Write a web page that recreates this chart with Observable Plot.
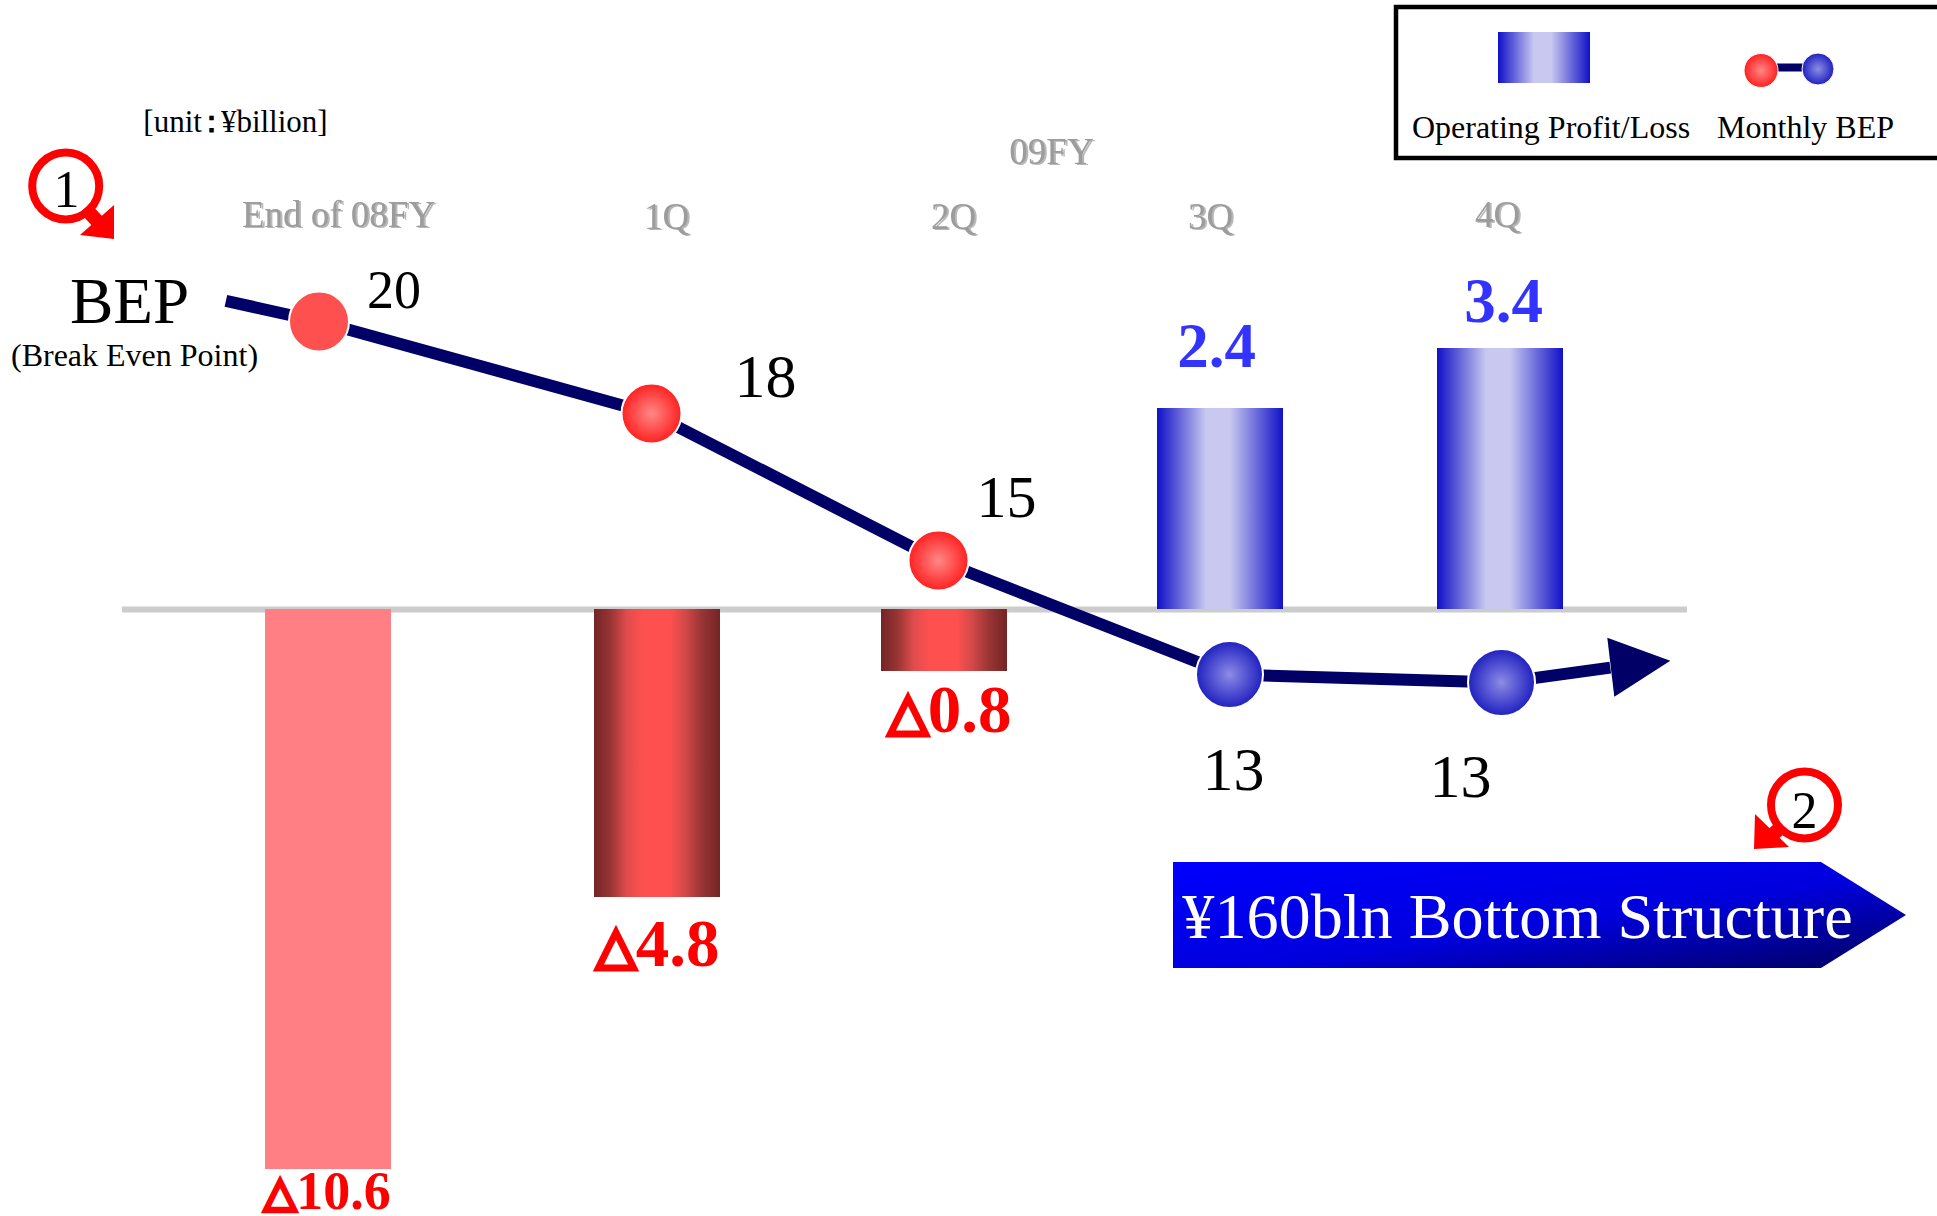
<!DOCTYPE html>
<html>
<head>
<meta charset="utf-8">
<script src="https://cdn.jsdelivr.net/npm/d3@7"></script>
<script src="https://cdn.jsdelivr.net/npm/@observablehq/plot@0.6"></script>
<style>
  html, body { margin: 0; background: #fff; }
  #chart { position: relative; width: 1937px; height: 1216px; overflow: hidden; }
  #chart svg { position: absolute; left: 0; top: 0; max-width: none; background: none; }
</style>
</head>
<body>
<div id="chart"></div>
<script>
// Periods and operating profit/loss, in ¥ billion
const periods = ["End of 08FY", "1Q", "2Q", "3Q", "4Q"];
const quarterIndex = [0, 1, 2, 3, 4];
const operatingProfit = [-10.6, -4.8, -0.8, 2.4, 3.4];

// Monthly break-even point, in ¥ billion (labels show it rounded)
const monthlyBep = [20, 18, 15, 13, 12.9];

// The trend line runs a little past the first and last point
const trendQuarter = [-0.28, 0, 1, 2, 3, 4, 4.4];
const trendBep = [20.45, 20, 18, 15, 13, 12.9, 13.12];

const WIDTH = 1937, HEIGHT = 1216;
const SERIF = "'Liberation Serif', 'Times New Roman', serif";
const NAVY = "#000066", RED = "#ff0000", BLUE_TEXT = "#3333ff", GREY_TEXT = "#9c9c9c";
const GREY_SHADOW = "drop-shadow(2px 1.5px 0.6px #b8b8b8)";

const rows = quarterIndex.map((q) => ({q, period: periods[q], profit: operatingProfit[q], bep: monthlyBep[q]}));

const chart = document.getElementById("chart");

const base = {
  width: WIDTH,
  height: HEIGHT,
  margin: 0,
  style: {fontFamily: SERIF, background: "none"}
};

// A position scale whose steps are uneven: values go through a piecewise
// mapping first, then land on the page directly
const piecewise = (domain, range, extent) => ({
  axis: null,
  transform: d3.scaleLinear(domain, range),
  domain: [0, extent],
  range: [0, extent]
});

const profitY = piecewise([-10.6, -4.8, -0.8, 0, 2.4, 3.4], [1169, 897, 671, 609, 408, 348], HEIGHT);
const barX = piecewise(quarterIndex, [328, 657, 944, 1220, 1500], WIDTH);
const bepY = piecewise([20, 18, 15, 13, 12.9], [321, 413, 560, 674, 682], HEIGHT);
const bepX = piecewise(quarterIndex, [318.5, 651, 938, 1229, 1501], WIDTH);

function gradient(defs, id, attrs, stops, tag = "linearGradient") {
  const g = defs.append(tag).attr("id", id);
  Object.entries(attrs).forEach(([k, v]) => g.attr(k, v));
  stops.forEach(([offset, color]) => g.append("stop").attr("offset", offset).attr("stop-color", color));
}

function paints() {
  const defs = d3.create("svg:defs");
  gradient(defs, "bar-loss", {x1: 0, x2: 1, y1: 0, y2: 0},
    [[0, "#742424"], [0.13, "#983434"], [0.26, "#e04c4c"], [0.39, "#ff5050"], [0.6, "#ff5050"], [0.73, "#d04848"], [0.86, "#983434"], [1, "#742424"]]);
  gradient(defs, "bar-profit", {x1: 0, x2: 1, y1: 0, y2: 0},
    [[0, "#1010c8"], [0.39, "#c8c8f0"], [0.58, "#c8c8f0"], [1, "#1010c8"]]);
  gradient(defs, "dot-loss", {}, [[0, "#ff8888"], [1, "#ff2020"]], "radialGradient");
  gradient(defs, "dot-profit", {}, [[0, "#8c8ce6"], [1, "#2020c0"]], "radialGradient");
  gradient(defs, "banner", {x1: 0, y1: 0, x2: 1, y2: 1}, [[0, "#0000ff"], [0.55, "#0000dd"], [1, "#00005e"]]);
  return defs.node();
}

const lossText = (v) => (v < 0 ? "△" + Math.abs(v).toFixed(1) : v.toFixed(1));

// Draws a text mark, then sets its triangle sign smaller and heavier than the digits
function smallSign(index, scales, values, dimensions, context, next) {
  const g = next(index, scales, values, dimensions, context);
  d3.select(g).selectAll("text").each(function () {
    const label = this.textContent;
    if (!label.startsWith("△")) return;
    this.textContent = "";
    const t = d3.select(this);
    t.append("tspan").attr("font-size", "0.78em").attr("dy", -3)
      .attr("stroke", RED).attr("stroke-width", 2.6).text("△");
    t.append("tspan").attr("dy", 3).text(label.slice(1));
  });
  return g;
}

// One label per bar, each set clear of its own bar end
const barLabel = (i, dx, dy, size) => Plot.text([rows[i]], {
  x: "q", y: "profit", text: (d) => lossText(d.profit), dx, dy,
  fontSize: size, fontWeight: "bold", lineAnchor: "middle",
  fill: rows[i].profit < 0 ? RED : BLUE_TEXT,
  render: smallSign
});

const periodLabel = (i, dx, dy) => Plot.text([rows[i]], {
  x: "q", text: "period", frameAnchor: "top", dx, dy,
  fontSize: 37, lineAnchor: "middle", fill: GREY_TEXT,
  imageFilter: GREY_SHADOW
});

const barOptions = {x1: "q", x2: "q", y1: 0, y2: "profit", insetLeft: -63, insetRight: -63};

// Bars, baseline and period headings
const barsLayer = Plot.plot({
  ...base,
  x: barX,
  y: profitY,
  marks: [
    paints,
    Plot.ruleY([0], {x1: -0.626, x2: 4.668, stroke: "#cccccc", strokeWidth: 6}),
    Plot.rect(rows.slice(0, 1), {...barOptions, fill: "#ff7f85"}),
    Plot.rect(rows.slice(1, 3), {...barOptions, fill: "url(#bar-loss)"}),
    Plot.rect(rows.slice(3), {...barOptions, fill: "url(#bar-profit)"}),
    barLabel(0, -1, 22, 54),
    barLabel(1, 0, 47, 67),
    barLabel(2, 5, 39, 67),
    barLabel(3, -4, -62, 63),
    barLabel(4, 3, -47, 63),
    periodLabel(0, 10, 215),
    periodLabel(1, 9, 217),
    periodLabel(2, 9, 217),
    periodLabel(3, -10, 217),
    periodLabel(4, -3, 215)
  ]
});
chart.append(barsLayer);

// A small text placed directly on the page area
const note = (text, cx, cy, size, options = {}) => Plot.text([text], {
  frameAnchor: "top-left", dx: cx, dy: cy, fontSize: size,
  textAnchor: "middle", lineAnchor: "middle", fill: "#000", ...options
});

// Tightens the full-width colon of the unit note
function tightColon(index, scales, values, dimensions, context, next) {
  const g = next(index, scales, values, dimensions, context);
  const t = d3.select(g).select("text");
  const [left, right] = t.text().split("：");
  t.text(left);
  t.append("tspan").attr("dx", -6).attr("font-weight", "bold").text("：");
  t.append("tspan").attr("dx", -6).text(right);
  return g;
}

// Legend frame, swatches, numbered callouts and the closing banner
function decorations() {
  const g = d3.create("svg:g");
  g.append("rect").attr("x", 1396).attr("y", 7).attr("width", 560).attr("height", 151)
    .attr("fill", "#fff").attr("stroke", "#000").attr("stroke-width", 4.5);
  g.append("rect").attr("x", 1498).attr("y", 32).attr("width", 92).attr("height", 51).attr("fill", "url(#bar-profit)");
  g.append("line").attr("x1", 1776).attr("x2", 1804).attr("y1", 67.5).attr("y2", 67.5)
    .attr("stroke", NAVY).attr("stroke-width", 8);
  g.append("circle").attr("cx", 1761).attr("cy", 70.5).attr("r", 17)
    .attr("fill", "url(#dot-loss)").attr("stroke", "#fff").attr("stroke-width", 1);
  g.append("circle").attr("cx", 1818).attr("cy", 69).attr("r", 16)
    .attr("fill", "url(#dot-profit)").attr("stroke", "#fff").attr("stroke-width", 1);

  const ring = (cx, cy) => g.append("circle").attr("cx", cx).attr("cy", cy).attr("r", 33.5)
    .attr("fill", "none").attr("stroke", RED).attr("stroke-width", 8);
  ring(65.7, 186);
  g.append("line").attr("x1", 85).attr("y1", 208).attr("x2", 100).attr("y2", 224)
    .attr("stroke", RED).attr("stroke-width", 14);
  g.append("polygon").attr("points", "114,205 114,239 80,235").attr("fill", RED);
  ring(1804.5, 805);
  g.append("line").attr("x1", 1779).attr("y1", 829).attr("x2", 1768).attr("y2", 839)
    .attr("stroke", RED).attr("stroke-width", 14);
  g.append("polygon").attr("points", "1755,814 1754,849 1789,847").attr("fill", RED);

  g.append("polygon").attr("points", "1173,862 1821,862 1906,915 1821,968 1173,968").attr("fill", "url(#banner)");
  return g.node();
}

const annotationLayer = Plot.plot({
  ...base,
  marks: [
    paints,
    decorations,
    note("Operating Profit/Loss", 1550.5, 127, 32),
    note("Monthly BEP", 1805, 127, 32),
    note("[unit：¥billion]", 235, 122, 31, {render: tightColon}),
    note("09FY", 1051, 152, 37, {fill: GREY_TEXT, imageFilter: GREY_SHADOW}),
    note("1", 66, 190, 52),
    note("2", 1804, 811, 52),
    note("BEP", 129, 302, 65),
    note("(Break Even Point)", 134, 355, 32),
    note("¥160bln Bottom Structure", 1517, 917, 64.2, {fill: "#fff"})
  ]
});
chart.append(annotationLayer);

// The break-even value always shows as a whole number
const bepText = (d) => d3.format(".0f")(d.bep);
const bepLabel = (i, dx, dy, size) => Plot.text([rows[i]], {
  x: "q", y: "bep", text: bepText, dx, dy, fontSize: size, lineAnchor: "middle", fill: "#000"
});

// A custom arrowhead placed at the far end of the trend
const arrowHead = {
  draw(ctx) {
    ctx.moveTo(-3, -30);
    ctx.lineTo(60, -7);
    ctx.lineTo(4, 29);
    ctx.closePath();
  }
};

const dotStyle = {x: "q", y: "bep", stroke: "#fff", strokeWidth: 2};

// Break-even trend on its own scale, over everything else
const bepLayer = Plot.plot({
  ...base,
  x: bepX,
  y: bepY,
  marks: [
    paints,
    Plot.line(trendQuarter.map((q, i) => ({q, bep: trendBep[i]})), {
      x: "q", y: "bep", stroke: NAVY, strokeWidth: 12, strokeLinecap: "butt", strokeLinejoin: "miter"
    }),
    Plot.dot([{q: trendQuarter.at(-1), bep: trendBep.at(-1)}], {x: "q", y: "bep", symbol: arrowHead, fill: NAVY, stroke: "none", r: 10}),
    Plot.dot(rows.slice(0, 1), {...dotStyle, r: 30, fill: "#ff5050"}),
    Plot.dot(rows.slice(1, 3), {...dotStyle, r: 30, fill: "url(#dot-loss)"}),
    Plot.dot(rows.slice(3), {...dotStyle, r: 33.5, fill: "url(#dot-profit)"}),
    bepLabel(0, 75, -31, 54),
    bepLabel(1, 114, -36, 62),
    bepLabel(2, 68, -63, 60),
    bepLabel(3, 4, 96, 62),
    bepLabel(4, -41, 95, 62)
  ]
});
chart.append(bepLayer);
</script>
</body>
</html>
